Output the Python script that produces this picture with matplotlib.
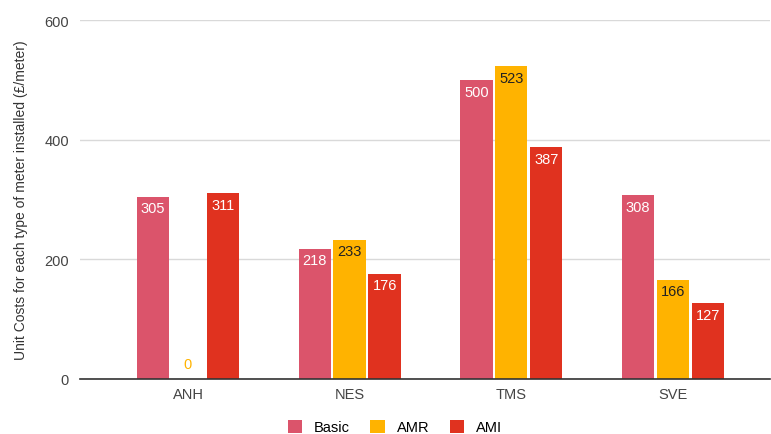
import matplotlib
matplotlib.use("Agg")
import matplotlib.pyplot as plt
import numpy as np

plt.rcParams['font.family'] = ['Liberation Sans', 'DejaVu Sans']

categories = ["ANH", "NES", "TMS", "SVE"]
series_names = ["Basic", "AMR", "AMI"]
basic = [305, 218, 500, 308]
amr = [0, 233, 523, 166]
ami = [311, 176, 387, 127]
yticks = [0, 200, 400, 600]

colors = ["#DB546B", "#FFB300", "#E0321F"]
label_colors = ["white", "#222222", "white"]

fig = plt.figure(figsize=(7.71, 4.35), dpi=100)
ax = fig.add_axes([80 / 771, 55 / 435, 690 / 771, 359 / 435])

x = np.arange(len(categories))
width = 0.2
step = 0.216
handles = []
for i, (name, vals) in enumerate(zip(series_names, [basic, amr, ami])):
    pos = x + (i - 1) * step
    bars = ax.bar(pos, vals, width, color=colors[i], label=name, zorder=3)
    handles.append(bars)
    for xp, v in zip(pos, vals):
        if v == 0:
            ax.text(xp, 14, f"{v}", ha="center", va="bottom", color=colors[i],
                    fontsize=10.5, zorder=4)
        else:
            ax.text(xp, v - 8, f"{v}", ha="center", va="top", color=label_colors[i],
                    fontsize=10.5, zorder=4)

ax.set_xlim(-0.668, 3.60)
ax.set_ylim(0, 600)
ax.set_yticks(yticks)
ax.set_xticks(x)
ax.set_xticklabels(categories)
ax.tick_params(axis="both", length=0, labelsize=10.5, colors="#444444", pad=8)
ax.tick_params(axis="x", pad=6)
for s in ax.spines.values():
    s.set_visible(False)
ax.grid(axis="y", color="#d9d9d9", linewidth=1, zorder=0)
ax.axhline(0, color="#333333", linewidth=1.2, zorder=5, clip_on=False)
ax.set_ylabel("Unit Costs for each type of meter installed (£/meter)", fontsize=10,
              color="#333333", labelpad=12)

fig.legend(handles=handles, labels=series_names, loc="center", bbox_to_anchor=(395 / 771, 1 - 428 / 435),
           ncol=3, frameon=False, fontsize=10.5, handlelength=1.0, handleheight=1.0,
           columnspacing=1.4, handletextpad=0.8)

fig.savefig("out.png", dpi=100)
